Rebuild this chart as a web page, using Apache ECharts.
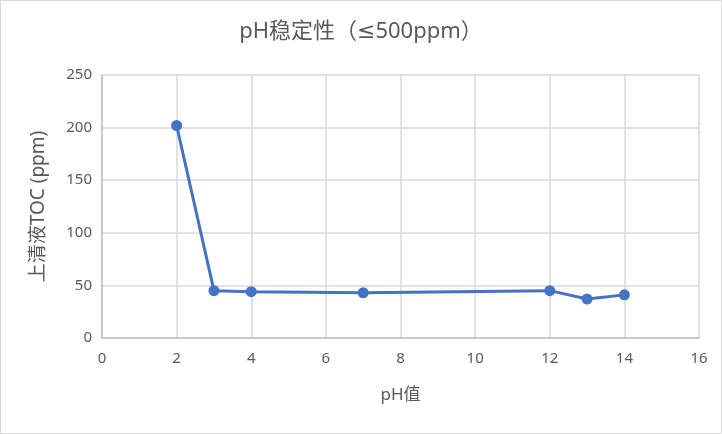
<!DOCTYPE html>
<html><head><meta charset="utf-8">
<script src="https://cdn.jsdelivr.net/npm/echarts@6/dist/echarts.min.js"></script>
<style>
html,body{margin:0;padding:0;background:#fff;}
#c{position:absolute;left:0;top:0;width:720px;height:432px;border:1px solid #d9d9d9;}
</style></head><body>
<div id="c"></div>
<script>
const titleText = 'pH稳定性（≤500ppm）';
const xName = 'pH值';
const yName = '上清液TOC (ppm)';
const phValues = [2, 3, 4, 7, 12, 13, 14];
const tocValues = [202, 45, 44, 43, 45, 37, 41];

const chart = echarts.init(document.getElementById('c'));
const font2 = '"Noto Sans", "DejaVu Sans", "Noto Sans CJK SC", sans-serif';
chart.setOption({
  animation: false,
  title: {text: titleText, left: 'center', top: 15,
    textStyle: {fontFamily: font2, fontSize: 22, fontWeight: 'normal', color: '#595959'}},
  grid: {left: 101, right: 22, top: 74, bottom: 95},
  xAxis: {type: 'value', min: 0, max: 16, interval: 2,
    name: xName, nameLocation: 'middle', nameGap: 49,
    nameTextStyle: {fontFamily: font2, fontSize: 17, color: '#595959'},
    axisLine: {show: true, lineStyle: {color: '#bfbfbf', width: 1.5}},
    axisTick: {show: false},
    axisLabel: {fontFamily: font2, fontSize: 15, color: '#595959', margin: 13},
    splitLine: {show: true, lineStyle: {color: '#d9d9d9', width: 1.5}}},
  yAxis: {type: 'value', min: 0, max: 250, interval: 50,
    name: yName, nameLocation: 'middle', nameGap: 54, nameRotate: 90,
    nameTextStyle: {fontFamily: font2, fontSize: 19, color: '#595959'},
    axisLine: {show: true, lineStyle: {color: '#bfbfbf', width: 1.5}},
    axisTick: {show: false},
    axisLabel: {fontFamily: font2, fontSize: 15, color: '#595959', margin: 10},
    splitLine: {show: true, lineStyle: {color: '#d9d9d9', width: 1.5}}},
  series: [{type: 'line', data: phValues.map((x, i) => [x, tocValues[i]]),
    symbol: 'circle', symbolSize: 11,
    lineStyle: {color: '#4472c4', width: 3},
    itemStyle: {color: '#4472c4'}}]
});
</script>
</body></html>
